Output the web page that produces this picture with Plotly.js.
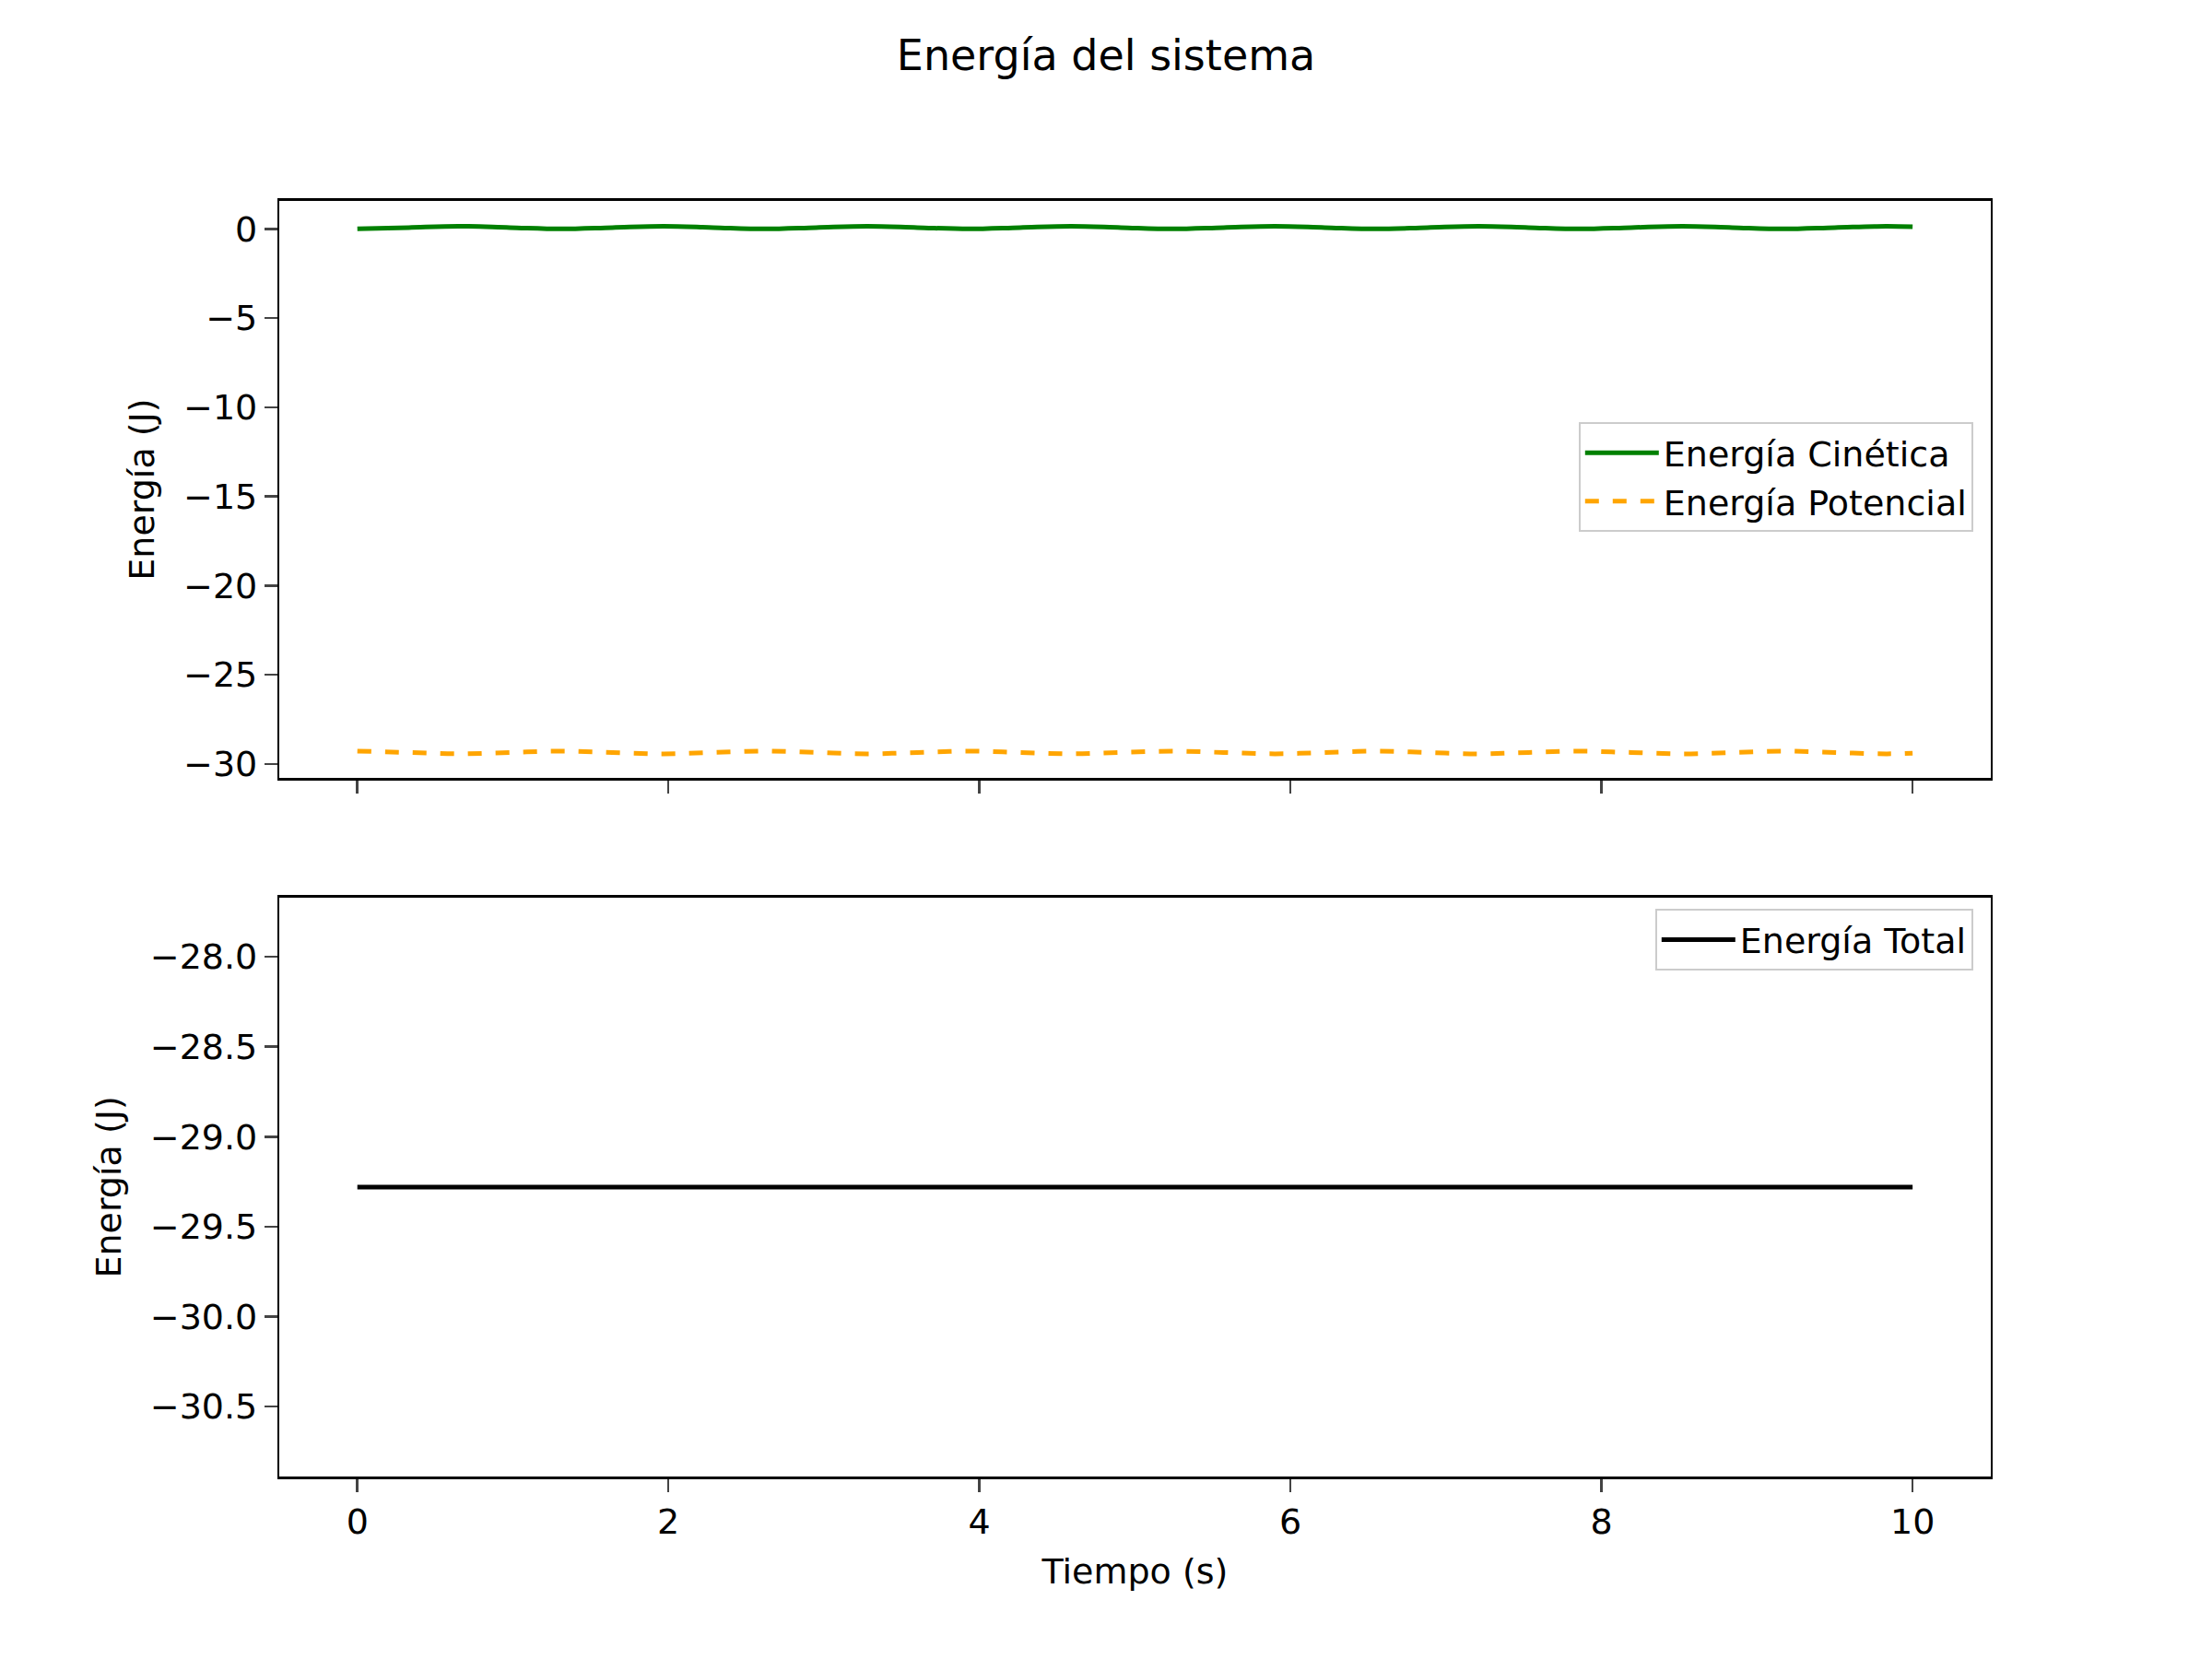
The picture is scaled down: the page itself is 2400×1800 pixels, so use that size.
<!DOCTYPE html>
<html>
<head>
<meta charset="utf-8">
<script src="https://cdn.plot.ly/plotly-3.0.1.min.js"></script>
<style>body{margin:0}#plot{width:2400px;height:1800px}</style>
</head>
<body>
<div id="plot"></div>
<script>
// tiempo (s), muestreado cada ~1/4 de periodo
var tiempo = [0, 0.33, 0.65, 0.98, 1.31, 1.64, 1.97, 2.29, 2.62, 2.95, 3.28, 3.6, 3.93, 4.26, 4.59, 4.91, 5.24,
  5.57, 5.9, 6.22, 6.55, 6.88, 7.21, 7.53, 7.86, 8.19, 8.52, 8.84, 9.17, 9.5, 9.83, 10];
var cinetica = [0, 0.075, 0.15, 0.075, 0, 0.075, 0.15, 0.075, 0, 0.075, 0.15, 0.075, 0, 0.075, 0.15, 0.075, 0,
  0.075, 0.15, 0.075, 0, 0.075, 0.15, 0.075, 0, 0.075, 0.15, 0.075, 0, 0.075, 0.15, 0.12];
var potencial = [-29.28, -29.355, -29.43, -29.355, -29.28, -29.355, -29.43, -29.355, -29.28, -29.355, -29.43, -29.355,
  -29.28, -29.355, -29.43, -29.355, -29.28, -29.355, -29.43, -29.355, -29.28, -29.355, -29.43, -29.355, -29.28,
  -29.355, -29.43, -29.355, -29.28, -29.355, -29.43, -29.4];
var total = [-29.28, -29.28, -29.28, -29.28, -29.28, -29.28, -29.28, -29.28, -29.28, -29.28, -29.28, -29.28,
  -29.28, -29.28, -29.28, -29.28, -29.28, -29.28, -29.28, -29.28, -29.28, -29.28, -29.28, -29.28, -29.28,
  -29.28, -29.28, -29.28, -29.28, -29.28, -29.28, -29.28];

var font = {family: 'DejaVu Sans', size: 38, color: '#000'};
var data = [
  {x: tiempo, y: cinetica, name: 'Energía Cinética', type: 'scatter', mode: 'lines',
   line: {color: 'green', width: 5, shape: 'spline'}, xaxis: 'x', yaxis: 'y', legend: 'legend'},
  {x: tiempo, y: potencial, name: 'Energía Potencial', type: 'scatter', mode: 'lines',
   line: {color: 'orange', width: 5, dash: 'dash', shape: 'spline'}, xaxis: 'x', yaxis: 'y', legend: 'legend'},
  {x: tiempo, y: total, name: 'Energía Total', type: 'scatter', mode: 'lines',
   line: {color: 'black', width: 5}, xaxis: 'x2', yaxis: 'y2', legend: 'legend2'}
];

var ax = {showline: true, mirror: true, linecolor: '#000', linewidth: 2.5, ticks: 'outside',
  ticklen: 14, tickwidth: 2.5, showgrid: false, zeroline: false, tickfont: font};

var layout = {
  width: 2400, height: 1800,
  margin: {l: 0, r: 0, t: 0, b: 0},
  paper_bgcolor: 'white', plot_bgcolor: 'white',
  font: font,
  title: {text: 'Energía del sistema', font: {family: 'DejaVu Sans', size: 46}, x: 0.5, y: 0.967, yanchor: 'middle'},
  xaxis: Object.assign({}, ax, {domain: [0.1264, 0.8998], range: [-0.5, 10.5], dtick: 2, showticklabels: false, anchor: 'y', matches: 'x2'}),
  yaxis: Object.assign({}, ax, {domain: [0.531, 0.879], range: [-30.79, 1.58], dtick: 5, anchor: 'x',
    title: {text: 'Energía (J)', font: font, standoff: 20}}),
  xaxis2: Object.assign({}, ax, {domain: [0.1264, 0.8998], range: [-0.5, 10.5], dtick: 2, anchor: 'y2',
    title: {text: 'Tiempo (s)', font: font, standoff: 20}}),
  yaxis2: Object.assign({}, ax, {domain: [0.110, 0.459], range: [-30.89, -27.67], dtick: 0.5, tickformat: '.1f', anchor: 'x2',
    title: {text: 'Energía (J)', font: font, standoff: 20}}),
  legend: {x: 0.892, y: 0.7455, xanchor: 'right', yanchor: 'top', bgcolor: 'rgba(255,255,255,0.8)',
    bordercolor: '#ccc', borderwidth: 2, font: font, itemwidth: 80},
  legend2: {x: 0.892, y: 0.452, xanchor: 'right', yanchor: 'top', bgcolor: 'rgba(255,255,255,0.8)',
    bordercolor: '#ccc', borderwidth: 2, font: font, itemwidth: 80},
  showlegend: true
};

Plotly.newPlot('plot', data, layout, {staticPlot: true});
</script>
</body>
</html>
